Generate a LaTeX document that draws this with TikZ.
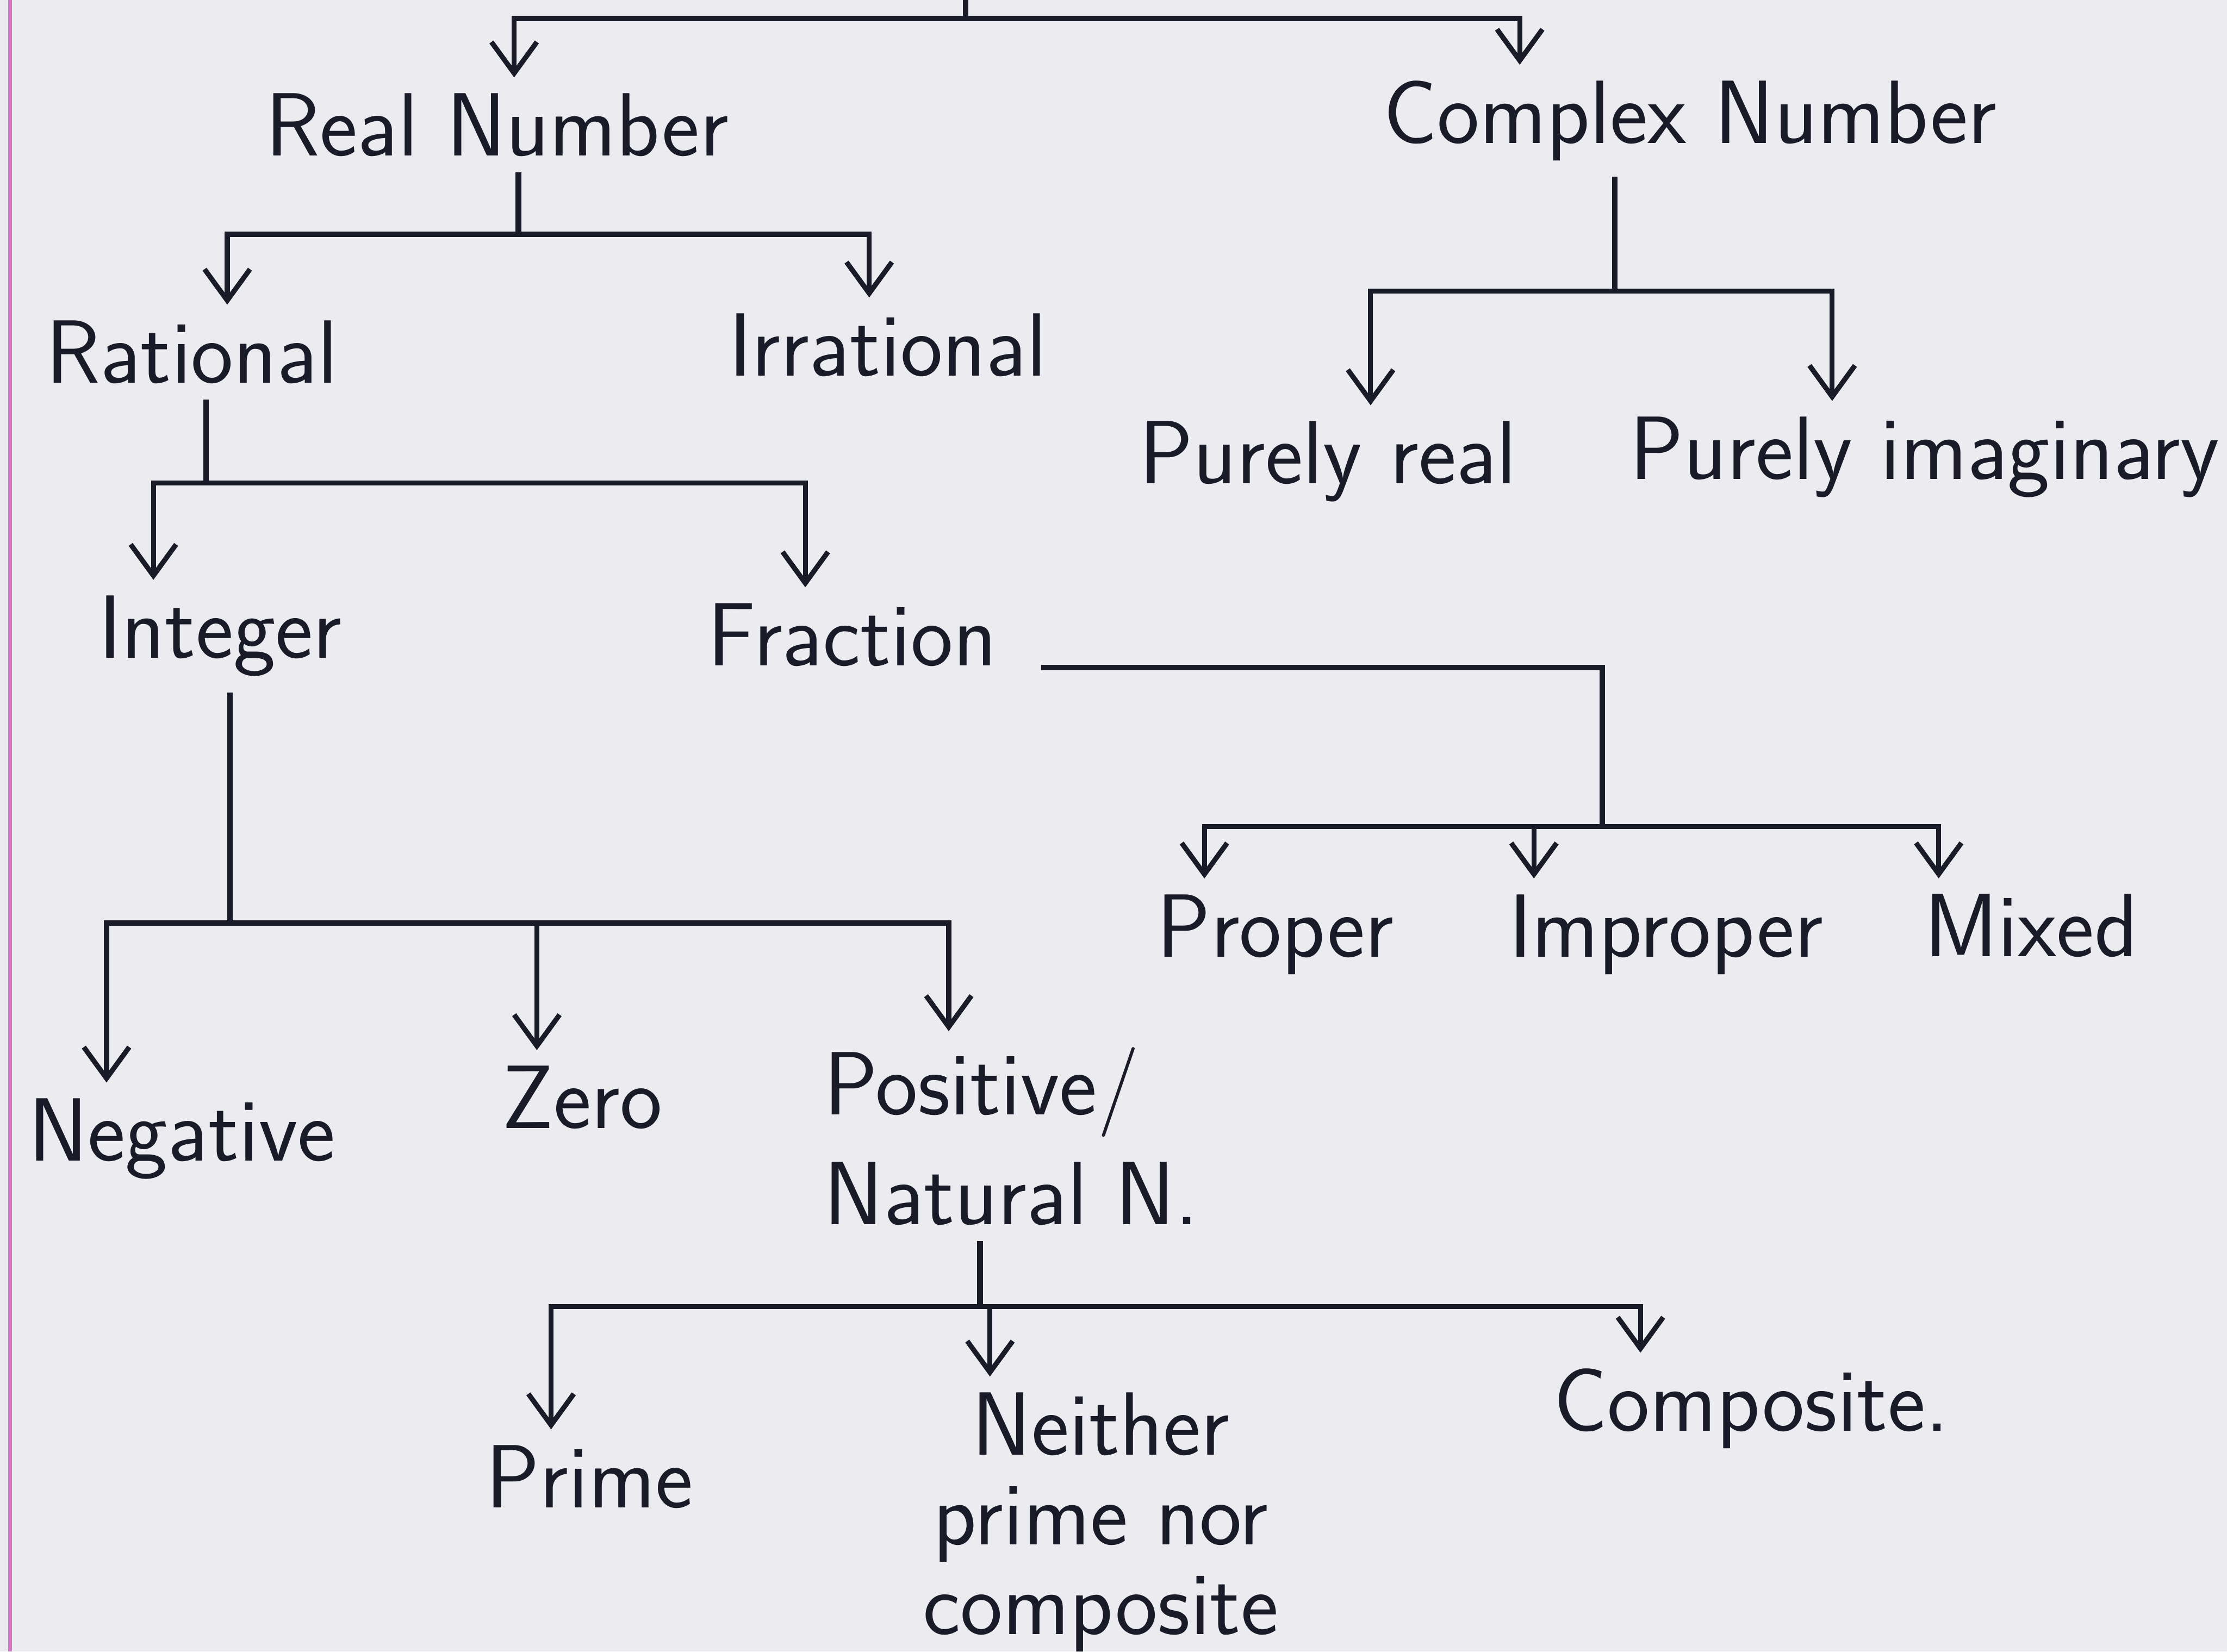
\documentclass[tikz,border=0pt]{standalone}
\usetikzlibrary{arrows.meta}

\definecolor{paper}{RGB}{236,236,240}
\definecolor{ink}{RGB}{25,28,40}
\definecolor{margin}{RGB}{214,120,200}

\tikzset{
	number/.style={text=ink, font=\sffamily\fontsize{18}{22}\selectfont, inner sep=3pt},
	branch/.style={draw=ink, line width=1pt, -{Straight Barb[length=2.2mm,width=3.2mm]}},
	bar/.style={draw=ink, line width=1.1pt}
}

\begin{document}
\begin{tikzpicture}
		\fill[paper] (0,0) rectangle (15.68,-11.63);
		\useasboundingbox (0,0) rectangle (15.68,-11.63);
		\draw[margin, line width=0.8pt] (0.07,0) -- (0.07,-11.63);

		%%% NUMERI
		\node[number] (real) at (3.5,-0.88) {Real Number};
		\node[number] (complex) at (11.9,-0.85) {Complex Number};
		\node[number] (rational) at (1.35,-2.48) {Rational};
		\node[number] (irrational) at (6.25,-2.43) {Irrational};
		\node[number] (purereal) at (9.35,-3.25) {Purely real};
		\node[number] (pureimag) at (13.55,-3.22) {Purely imaginary};
		\node[number] (integer) at (1.55,-4.48) {Integer};
		\node[number] (fraction) at (6.0,-4.47) {Fraction};
		\node[number] (proper) at (8.98,-6.58) {Proper};
		\node[number] (improper) at (11.73,-6.58) {Improper};
		\node[number] (mixed) at (14.3,-6.52) {Mixed};
		\node[number] (negative) at (1.28,-8.02) {Negative};
		\node[number] (zero) at (4.1,-7.73) {Zero};
		\node[number, align=left] (natural) at (7.12,-8.0) {Positive/\\Natural N.};
		\node[number] (prime) at (4.15,-10.4) {Prime};
		\node[number, align=center] (neither) at (7.75,-10.72) {Neither\\[-4pt]prime nor\\[-4pt]composite};
		\node[number] (composite) at (12.33,-9.92) {Composite.};

		%%% RAMI
		\coordinate (top) at (6.8,0);
		\coordinate (jtop) at (6.8,-0.13);
		\coordinate (jreal) at (3.65,-1.65);
		\coordinate (jcomplex) at (11.37,-2.05);
		\coordinate (jrational) at (1.45,-3.4);
		\coordinate (jfraction) at (11.28,-5.82);
		\coordinate (jinteger) at (1.62,-6.5);
		\coordinate (jnatural) at (6.9,-9.2);

		\draw[bar] (top) -- (jtop);
		\draw[branch] (jtop) -| (3.62,0 |- real.north);
		\draw[branch] (jtop) -| (10.7,0 |- complex.north);

		\draw[bar] (real.south -| jreal) -- (jreal);
		\draw[branch] (jreal) -| (1.6,0 |- rational.north);
		\draw[branch] (jreal) -| (6.12,0 |- irrational.north);

		\draw[bar] (complex.south -| jcomplex) -- (jcomplex);
		\draw[branch] (jcomplex) -| (9.65,0 |- purereal.north);
		\draw[branch] (jcomplex) -| (12.9,0 |- pureimag.north);

		\draw[bar] (rational.south -| jrational) -- (jrational);
		\draw[branch] (jrational) -| (1.08,0 |- integer.north);
		\draw[branch] (jrational) -| (5.67,0 |- fraction.north);

		\draw[bar] ([xshift=2mm,yshift=-2.3mm]fraction.east) -| (jfraction);
		\draw[branch] (jfraction) -| (8.48,0 |- proper.north);
		\draw[branch] (jfraction) -| (10.8,0 |- improper.north);
		\draw[branch] (jfraction) -| (13.65,0 |- mixed.north);

		\draw[bar] (integer.south -| jinteger) -- (jinteger);
		\draw[branch] (jinteger) -| (0.75,0 |- negative.north);
		\draw[branch] (jinteger) -| (3.78,0 |- zero.north);
		\draw[branch] (jinteger) -| (6.68,0 |- natural.north);

		\draw[bar] (natural.south -| jnatural) -- (jnatural);
		\draw[branch] (jnatural) -| (3.88,0 |- prime.north);
		\draw[branch] (jnatural) -| (6.97,0 |- neither.north);
		\draw[branch] (jnatural) -| (11.55,0 |- composite.north);
\end{tikzpicture}
\end{document}
